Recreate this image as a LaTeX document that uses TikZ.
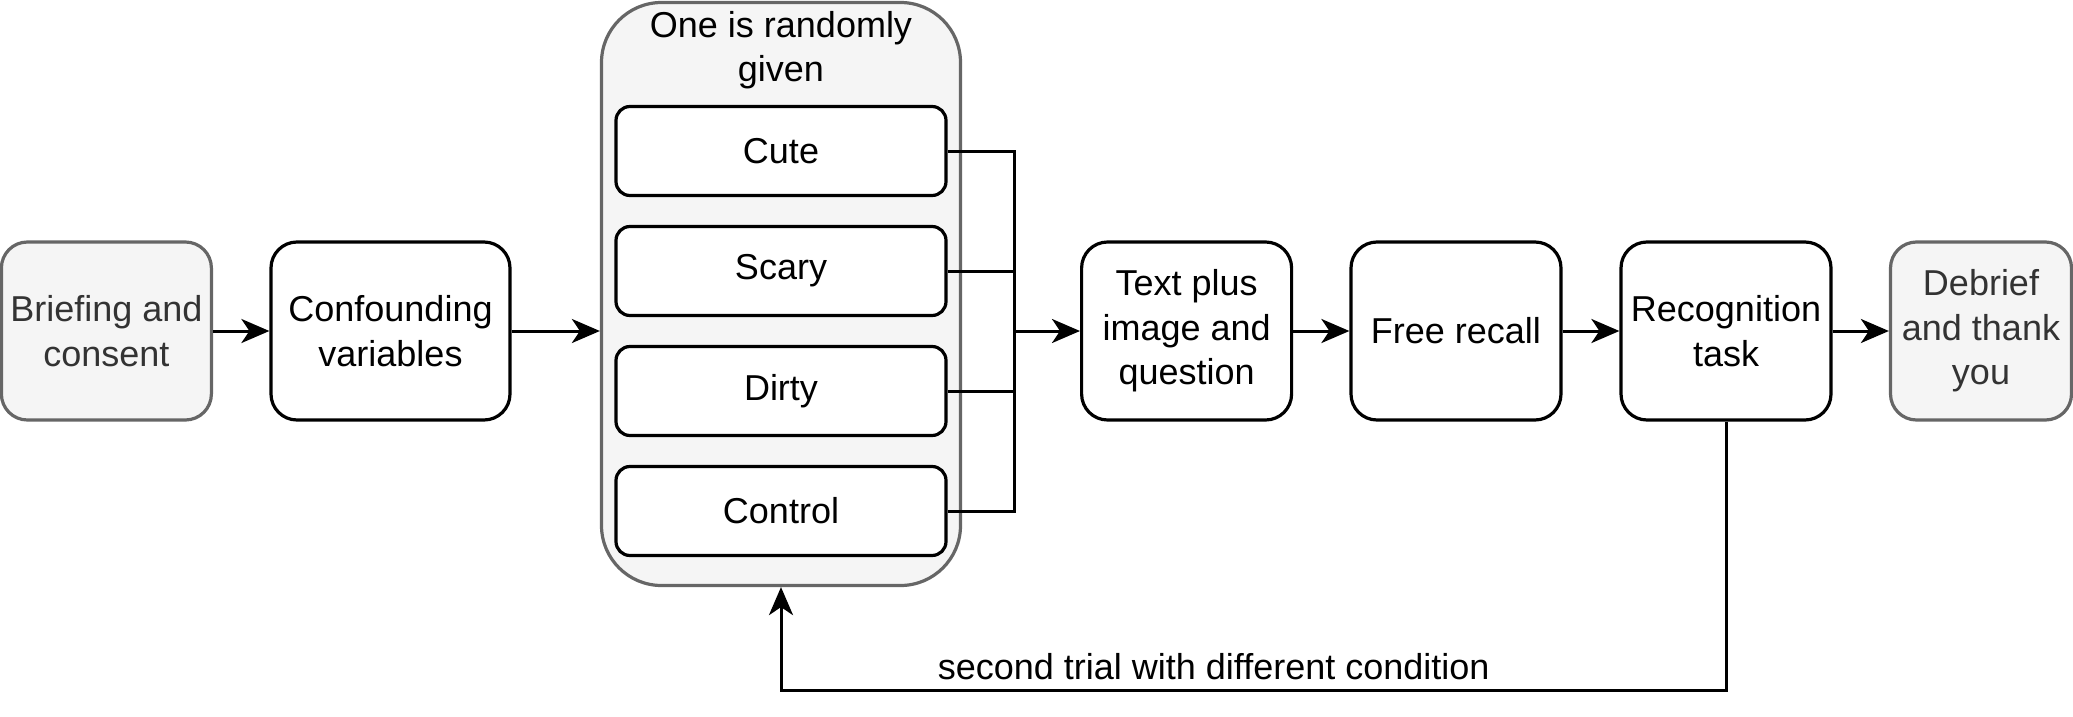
\documentclass[tikz,border=0pt]{standalone}
\usepackage{fontspec}
\setmainfont{Liberation Sans}
\usetikzlibrary{arrows.meta}
\definecolor{grayfill}{HTML}{F5F5F5}
\definecolor{graystroke}{HTML}{666666}
\definecolor{graytext}{HTML}{333333}
\begin{document}
\begin{tikzpicture}[x=1pt,y=-1pt,
  every node/.style={font=\fontsize{36}{44.5}\selectfont, align=center, inner sep=0pt},
  box/.style={draw=black, line width=3.2pt, fill=white, rounded corners=26pt, minimum height=178pt},
  graybox/.style={draw=graystroke, line width=3.2pt, fill=grayfill, text=graytext, rounded corners=26pt, minimum height=178pt},
  cond/.style={draw=black, line width=3.2pt, fill=white, rounded corners=14pt, minimum width=330pt, minimum height=89pt},
  conn/.style={line width=3pt, draw=black},
  arr/.style={conn, -{Stealth[length=28pt, width=24pt, inset=8pt]}}
]
\useasboundingbox (0,0) rectangle (2073,717);
% nodes
\node[graybox, minimum width=210pt] (brief) at (106.4,331) {Briefing and\\consent};
\node[box, minimum width=239pt] (conf) at (390.5,331) {Confounding\\variables};
\node[draw=graystroke, line width=3.2pt, fill=grayfill, rounded corners=60pt, minimum width=359pt, minimum height=583pt] (cont) at (781,294) {};
\node (title) at (781,50) {One is randomly\\given};
\node[cond] (cute) at (781,151) {Cute};
\node[cond] (scary) at (781,271) {Scary};
\node[cond] (dirty) at (781,391) {Dirty};
\node[cond] (control) at (781,511) {Control};
\coordinate (merge) at (1014,331);
\node[box, minimum width=210pt] (text) at (1186.6,331) {Text plus\\image and\\question};
\node[box, minimum width=210pt] (free) at (1456,331) {Free recall};
\node[box, minimum width=210pt] (recog) at (1726,331) {Recognition\\task};
\node[graybox, minimum width=181pt] (debrief) at (1981,331) {Debrief\\and thank\\you};
% connectors
\draw[arr] (brief.east) -- (conf.west);
\draw[arr] (conf.east) -- (conf.east -| cont.west);
\draw[conn] (cute.east) -| (merge);
\draw[conn] (scary.east) -| (merge);
\draw[conn] (dirty.east) -| (merge);
\draw[conn] (control.east) -| (merge);
\draw[arr] (merge) -- (text.west);
\draw[arr] (text.east) -- (free.west);
\draw[arr] (free.east) -- (recog.west);
\draw[arr] (recog.east) -- (debrief.west);
\coordinate (fb1) at (1726,690);
\coordinate (fb2) at (781,690);
\draw[arr] (recog.south) -- (fb1) -- (fb2) -- (cont.south);
\node (lbl) at (1213.7,667) {second trial with different condition};
\end{tikzpicture}
\end{document}
